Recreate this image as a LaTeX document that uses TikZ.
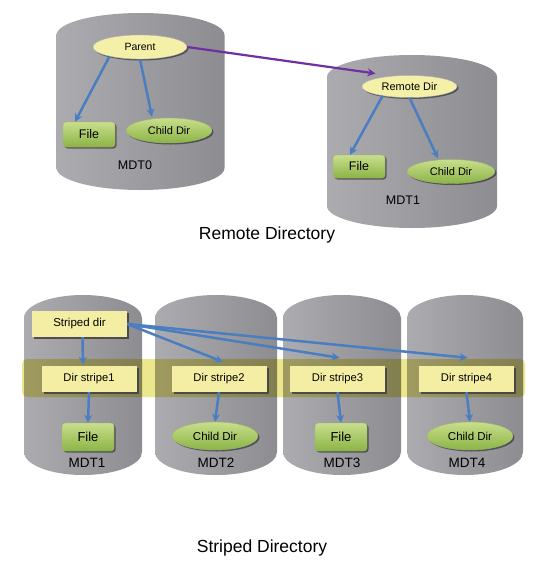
\documentclass[tikz,border=0pt]{standalone}
\usepackage{fontspec}
\setmainfont{Liberation Sans}
\usetikzlibrary{arrows.meta,shadows,shapes.geometric}
\definecolor{cylA}{RGB}{172,172,176}
\definecolor{cylB}{RGB}{164,164,168}
\definecolor{cylC}{RGB}{140,140,145}
\definecolor{ylw}{RGB}{244,240,168}
\definecolor{ylwbox}{RGB}{244,238,164}
\definecolor{band}{RGB}{236,230,140}
\definecolor{grnL}{RGB}{200,222,140}
\definecolor{grnD}{RGB}{140,180,70}
\definecolor{grnE}{RGB}{110,150,50}
\definecolor{arrblue}{RGB}{74,126,192}
\definecolor{purp}{RGB}{112,48,160}
\newcommand\mycyl[5]{%
  \pgfmathsetmacro\cL{#1-#4}\pgfmathsetmacro\cR{#1+#4}%
  \pgfmathsetmacro\cT{#2+#5}\pgfmathsetmacro\cB{#3-#5}%
  \pgfmathsetmacro\kx{0.5523*#4}\pgfmathsetmacro\ky{0.5523*#5}%
  \shade[left color=cylA,middle color=cylB,right color=cylC]
    (\cL,\cT) .. controls (\cL,\cT-\ky) and (#1-\kx,#2) .. (#1,#2)
    .. controls (#1+\kx,#2) and (\cR,\cT-\ky) .. (\cR,\cT)
    -- (\cR,\cB) .. controls (\cR,\cB+\ky) and (#1+\kx,#3) .. (#1,#3)
    .. controls (#1-\kx,#3) and (\cL,\cB+\ky) .. (\cL,\cB) -- cycle;}
\tikzset{
  shd/.style={drop shadow={shadow xshift=1.5pt,shadow yshift=-1.5pt,opacity=.45,fill=black}},
  yell/.style={ellipse,draw=gray!55,fill=ylw,inner sep=0pt,shd},
  filebox/.style={rectangle,rounded corners=3pt,draw=grnE!70,top color=grnL,bottom color=grnD,inner sep=0pt,shd},
  childell/.style={ellipse,draw=grnE!70,top color=grnL,bottom color=grnD,inner sep=0pt,shd},
  stripebox/.style={rectangle,fill=ylwbox,inner sep=0pt,minimum width=95,minimum height=26,
     drop shadow={shadow xshift=2pt,shadow yshift=-2pt,opacity=.85,fill=black!75}},
  lbl/.style={inner sep=0pt,font=\fontsize{12.5}{14}\selectfont},
  captxt/.style={inner sep=0pt,font=\fontsize{17.5}{20}\selectfont},
  arr/.style={draw=arrblue,line width=2.5pt,-{Stealth[length=8pt,width=8pt]}},
  parr/.style={draw=purp,line width=2.2pt,-{Stealth[length=8pt,width=8pt]}},
}
\begin{document}
\begin{tikzpicture}[x=1pt,y=-1pt]
\useasboundingbox (0,0) rectangle (534,579);
\fill[white] (0,0) rectangle (534,579);
% ---------- Remote directory ----------
\mycyl{140.5}{13}{190}{84}{22}
\mycyl{412}{55}{228}{85}{22}
\node[yell,minimum width=94,minimum height=24,font=\fontsize{10.5}{12}\selectfont] (parent) at (140,47) {Parent};
\node[filebox,minimum width=52,minimum height=25,font=\fontsize{12.5}{14}\selectfont] (fileA) at (89,134.5) {File};
\node[childell,minimum width=86,minimum height=25,font=\fontsize{11}{13}\selectfont] (childA) at (169,130.5) {Child Dir};
\node[lbl] (mdt0) at (135,165) {MDT0};
\node[yell,minimum width=95,minimum height=22,font=\fontsize{11}{13}\selectfont] (remote) at (409.5,86.5) {Remote Dir};
\node[filebox,minimum width=52,minimum height=23,font=\fontsize{12.5}{14}\selectfont] (fileB) at (359,166.5) {File};
\node[childell,minimum width=88,minimum height=24,font=\fontsize{11}{13}\selectfont] (childB) at (451,171.5) {Child Dir};
\node[lbl] (mdt1a) at (403,200) {MDT1};
\node[captxt] (capA) at (267,235) {Remote Directory};
\draw[arr] (parent.197) -- ([xshift=-14pt]fileA.north);
\draw[arr] (parent.south) -- ([xshift=-17pt,yshift=1pt]childA.north);
\draw[parr] (parent.east) -- ([xshift=-34pt,yshift=13pt]remote.center);
\draw[arr] (remote.199) -- ([xshift=-9pt]fileB.north);
\draw[arr] (remote.south) -- ([xshift=-13pt,yshift=1pt]childB.north);
% ---------- Striped directory ----------
\mycyl{83}{295}{475}{59}{23}
\mycyl{216}{295}{475}{61}{23}
\mycyl{342}{295}{475}{59}{23}
\mycyl{465}{295}{475}{58}{23}
\fill[band,blend mode=multiply,rounded corners=5pt] (22,359) rectangle (525,397);
\node[stripebox,font=\fontsize{11.5}{13}\selectfont] (sd) at (79.5,324) {Striped dir};
\node[stripebox,font=\fontsize{11.2}{13}\selectfont] (s1) at (89,379) {Dir stripe1};
\node[stripebox,font=\fontsize{11.2}{13}\selectfont] (s2) at (219,379) {Dir stripe2};
\node[stripebox,font=\fontsize{11.2}{13}\selectfont] (s3) at (337.5,379) {Dir stripe3};
\node[stripebox,font=\fontsize{11.2}{13}\selectfont] (s4) at (466.5,379) {Dir stripe4};
\node[filebox,minimum width=52,minimum height=28,font=\fontsize{13}{15}\selectfont] (f1) at (88,437) {File};
\node[childell,minimum width=86,minimum height=28,font=\fontsize{11.5}{13}\selectfont] (c2) at (215,436) {Child Dir};
\node[filebox,minimum width=52,minimum height=28,font=\fontsize{13}{15}\selectfont] (f3) at (341,437) {File};
\node[childell,minimum width=86,minimum height=28,font=\fontsize{11.5}{13}\selectfont] (c4) at (470,436) {Child Dir};
\node[lbl,font=\fontsize{13.5}{15}\selectfont] (m1) at (87,463) {MDT1};
\node[lbl,font=\fontsize{13.5}{15}\selectfont] (m2) at (216,463) {MDT2};
\node[lbl,font=\fontsize{13.5}{15}\selectfont] (m3) at (342,463) {MDT3};
\node[lbl,font=\fontsize{13.5}{15}\selectfont] (m4) at (467,463) {MDT4};
\node[captxt] (capB) at (262,548) {Striped Directory};
\draw[arr] ([xshift=3pt]sd.south) -- ([xshift=-6pt,yshift=1pt]s1.north);
\draw[arr] (s1.south) -- (f1.north);
\draw[arr] (sd.east) -- ([xshift=4pt,yshift=4pt]s2.north);
\draw[arr] (sd.east) -- ([xshift=2pt,yshift=8pt]s3.north);
\draw[arr] (sd.east) -- ([xshift=1pt,yshift=8pt]s4.north);
\draw[arr] (s2.south) -- (c2.north);
\draw[arr] (s3.south) -- (f3.north);
\draw[arr] (s4.south) -- (c4.north);
\end{tikzpicture}
\end{document}
